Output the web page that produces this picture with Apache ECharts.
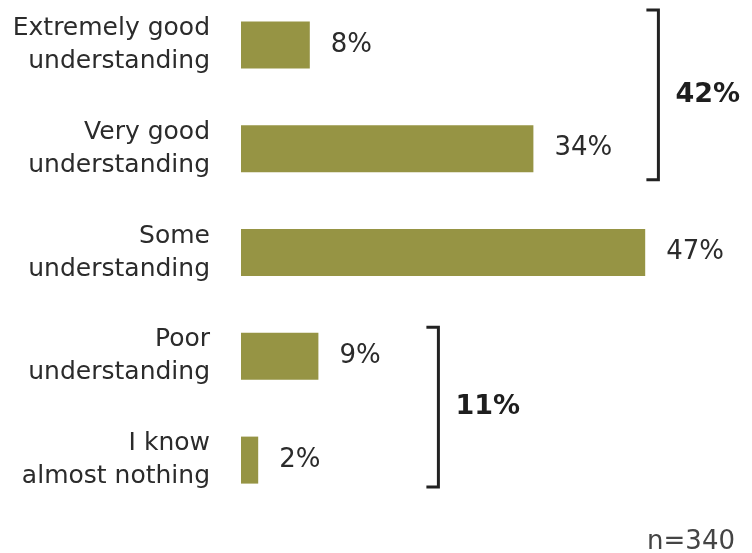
<!DOCTYPE html>
<html>
<head>
<meta charset="utf-8">
<script src="https://cdn.jsdelivr.net/npm/echarts@6/dist/echarts.min.js"></script>
<style>
  html, body { margin: 0; padding: 0; background: #fff; }
  #chart { width: 752px; height: 553px; }
</style>
</head>
<body>
<div id="chart"></div>
<script>
// Survey responses: self-rated understanding
const categories = [
  'Extremely good\nunderstanding',
  'Very good\nunderstanding',
  'Some\nunderstanding',
  'Poor\nunderstanding',
  'I know\nalmost nothing'
];
const shares = [8, 34, 47, 9, 2];
// Grouped totals: [first category index, last category index]
const groups = [[0, 1], [3, 4]];
const sampleNote = 'n=340';

const FONT = '"DejaVu Sans", sans-serif';
const TEXT = '#2b2b2b';
const BAR = '#969444';

// Each group carries its largest share (bracket anchor), its span and its total
const groupData = groups.map(([a, b]) => {
  const slice = shares.slice(a, b + 1);
  return [Math.max(...slice), a, b, slice.reduce((s, v) => s + v, 0)];
});
// Bracket placement per group: horizontal shift and overhang above/below
const bracketShift = [125, 120];
const bracketOverhang = [[35, 31], [29, 27]];

const chart = echarts.init(document.getElementById('chart'), null, { renderer: 'canvas' });

chart.setOption({
  animation: false,
  backgroundColor: '#ffffff',
  grid: { left: 241, top: -7, width: 430, height: 519, outerBoundsMode: 'none', containLabel: false },
  xAxis: {
    type: 'value', min: 0, max: 50,
    show: false
  },
  yAxis: {
    type: 'category',
    data: categories,
    inverse: true,
    axisLine: { show: false },
    axisTick: { show: false },
    splitLine: { show: false },
    axisLabel: {
      align: 'right',
      margin: 31,
      fontFamily: FONT,
      fontSize: 25,
      lineHeight: 33,
      color: TEXT
    }
  },
  series: [
    {
      type: 'bar',
      data: shares,
      barWidth: 47,
      itemStyle: { color: BAR },
      label: {
        show: true,
        position: 'right',
        distance: 21,
        formatter: '{c}%',
        fontFamily: FONT,
        fontSize: 26,
        color: TEXT
      }
    },
    {
      type: 'custom',
      clip: false,
      silent: true,
      data: groupData,
      encode: { x: 0, y: 1 },
      renderItem: function (params, api) {
        const i = params.dataIndex;
        const top = api.coord([api.value(0), api.value(1)]);
        const bottom = api.coord([api.value(0), api.value(2)]);
        const x = top[0] + bracketShift[i];
        const y0 = top[1] - bracketOverhang[i][0];
        const y1 = bottom[1] + bracketOverhang[i][1];
        const tick = 12;
        const lineStyle = { stroke: '#222', lineWidth: 3, fill: null, lineJoin: 'miter' };
        return {
          type: 'group',
          children: [
            {
              type: 'polyline',
              shape: { points: [[x - tick, y0], [x, y0], [x, y1], [x - tick, y1]] },
              style: lineStyle
            },
            {
              type: 'text',
              x: x + 17,
              y: (y0 + y1) / 2,
              style: {
                text: api.value(3) + '%',
                fontFamily: FONT,
                fontSize: 27,
                fontWeight: 'bold',
                fill: '#1e1e1e',
                verticalAlign: 'middle',
                align: 'left'
              }
            }
          ]
        };
      }
    }
  ],
  graphic: [
    {
      type: 'text',
      right: 17,
      top: 529,
      style: {
        text: sampleNote,
        fontFamily: FONT,
        fontSize: 26,
        fill: '#444'
      }
    }
  ]
});
</script>
</body>
</html>
